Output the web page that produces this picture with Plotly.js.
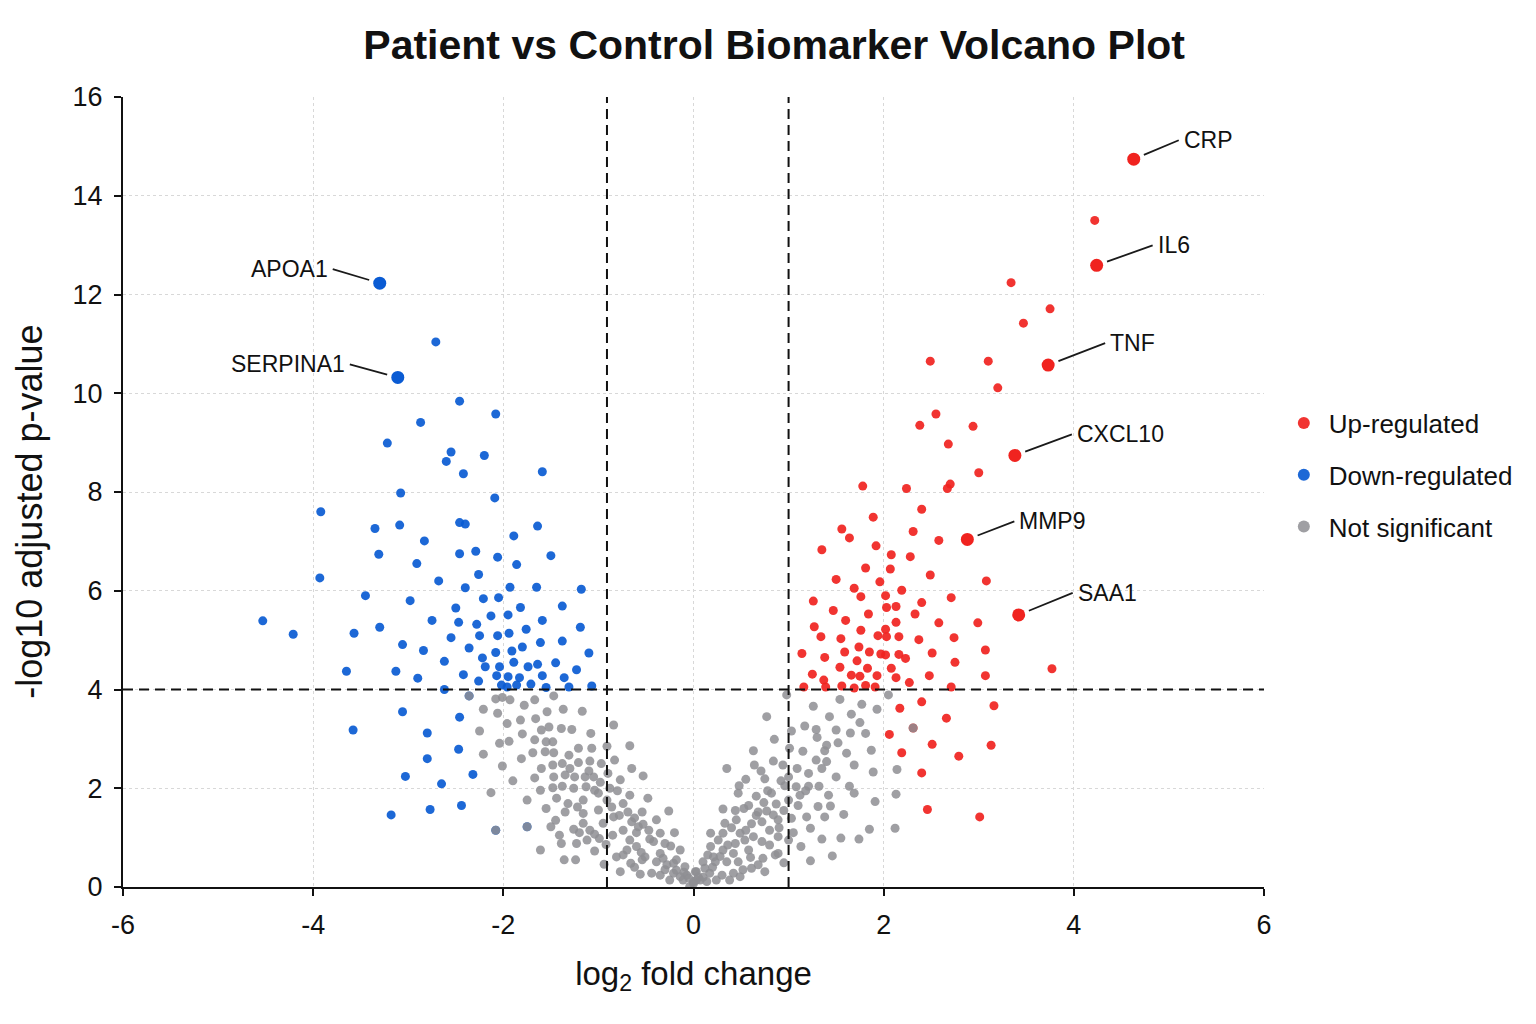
<!DOCTYPE html>
<html>
<head>
<meta charset="utf-8">
<script src="https://cdn.plot.ly/plotly-3.0.1.min.js"></script>
<style>html,body{margin:0;padding:0;background:#fff;}#chart{width:1536px;height:1024px;}</style>
</head>
<body>
<div id="chart"></div>
<script>
// ---------- DATA ----------
const upFC = [4.22,3.34,3.75,3.47,2.49,3.10,3.20,2.55,2.38,2.94,2.68,3.00,1.78,2.24,2.70,2.67,2.40,1.89,1.56,2.31,1.64,2.58,1.35,1.92,2.08,2.28,1.81,2.07,2.49,1.50,1.96,3.08,1.69,1.76,2.02,2.19,2.71,1.26,1.47,2.03,2.13,2.40,1.84,2.33,1.60,2.13,2.58,2.99,1.27,1.76,1.34,1.55,1.94,2.02,2.03,2.16,2.37,2.74,1.74,3.07,1.14,1.59,1.85,1.97,2.02,2.16,2.51,2.23,1.38,1.72,2.75,1.54,1.83,2.08,3.77,1.25,1.66,1.75,1.93,2.13,2.48,3.07,1.37,2.27,1.16,1.39,1.56,1.69,1.81,1.91,2.71,2.40,3.16,2.17,2.66,2.31,2.06,2.51,3.13,2.19,2.79,2.40,2.46,3.01];
const upP  = [13.50,12.24,11.71,11.42,10.65,10.65,10.11,9.58,9.35,9.33,8.97,8.39,8.12,8.07,8.16,8.07,7.65,7.49,7.25,7.20,7.07,7.02,6.83,6.91,6.73,6.69,6.46,6.44,6.32,6.23,6.18,6.20,6.05,5.88,5.90,6.01,5.86,5.79,5.60,5.66,5.68,5.76,5.53,5.53,5.40,5.36,5.35,5.35,5.27,5.20,5.07,5.03,5.09,5.22,5.07,5.07,5.01,5.05,4.86,4.80,4.73,4.76,4.76,4.72,4.70,4.71,4.74,4.63,4.65,4.58,4.55,4.45,4.43,4.43,4.42,4.31,4.29,4.27,4.28,4.24,4.28,4.28,4.19,4.14,4.05,4.05,4.07,4.03,4.08,4.05,4.05,3.75,3.67,3.62,3.42,3.22,3.09,2.89,2.87,2.72,2.65,2.31,1.57,1.42];

const downFC = [-2.71,-2.46,-2.08,-2.87,-3.22,-2.55,-2.60,-2.20,-2.42,-1.59,-3.08,-2.09,-3.92,-3.35,-3.09,-2.46,-2.40,-1.64,-2.83,-1.89,-3.31,-2.46,-2.29,-2.06,-1.50,-2.91,-1.86,-2.26,-3.93,-2.68,-2.40,-1.93,-1.65,-1.18,-3.45,-2.98,-2.21,-2.05,-2.50,-1.82,-1.38,-4.53,-2.75,-2.47,-2.28,-2.13,-1.95,-1.59,-4.21,-3.57,-3.30,-2.25,-2.06,-1.94,-1.76,-1.19,-2.55,-1.61,-1.38,-3.06,-2.36,-1.80,-2.84,-2.08,-1.91,-1.10,-2.22,-2.62,-1.89,-2.19,-2.04,-1.74,-1.64,-1.45,-1.23,-3.65,-3.13,-2.90,-2.42,-2.26,-2.07,-1.95,-1.83,-1.59,-1.36,-2.02,-1.86,-1.71,-1.55,-1.31,-1.07,-2.62,-1.96,-3.06,-2.46,-3.58,-2.80,-2.47,-2.80,-3.03,-2.32,-2.65,-2.77,-2.44,-3.18,-2.36,-2.08,-1.75];
const downP  = [11.04,9.84,9.58,9.41,8.99,8.81,8.62,8.74,8.37,8.41,7.98,7.88,7.60,7.26,7.33,7.38,7.35,7.31,7.01,7.11,6.74,6.75,6.80,6.68,6.71,6.55,6.53,6.33,6.26,6.20,6.06,6.07,6.07,6.03,5.90,5.80,5.84,5.86,5.65,5.66,5.69,5.39,5.40,5.36,5.32,5.49,5.51,5.40,5.12,5.14,5.26,5.09,5.09,5.14,5.22,5.26,5.05,4.95,4.98,4.91,4.84,4.86,4.79,4.75,4.78,4.74,4.64,4.57,4.55,4.46,4.46,4.46,4.51,4.54,4.40,4.37,4.37,4.23,4.30,4.17,4.28,4.26,4.24,4.28,4.24,4.09,4.09,4.11,4.04,4.05,4.07,4.00,4.05,3.55,3.44,3.18,3.12,2.79,2.60,2.24,2.28,2.09,1.57,1.65,1.46,3.87,1.15,1.22];

const nsFC = [-2.36,-2.21,-2.25,-2.21,-2.01,-2.04,-1.94,-1.90,-2.13,-2.08,-1.75,-1.75,-1.50,-2.06,-1.96,-2.01,-2.08,-1.93,-1.82,-1.78,-1.67,-1.66,-1.54,-1.47,-1.37,-1.17,-1.80,-1.67,-1.60,-1.52,-1.39,-1.28,-1.08,-1.48,-1.55,-1.81,-1.69,-1.56,-1.47,-1.31,-1.21,-1.07,-0.91,-0.83,-0.84,-1.60,-1.48,-1.38,-1.21,-1.09,-0.97,-1.67,-1.47,-1.35,-1.25,-1.14,-1.05,-1.61,-1.48,-1.38,-1.26,-1.13,-1.04,-1.55,-1.44,-1.32,-1.16,-1.35,-1.16,-1.00,-1.26,-1.09,-0.95,-0.91,
 -0.67,-0.65,-0.53,-0.77,-0.67,-0.48,-0.74,-0.69,-0.54,-0.26,-0.39,-0.65,-0.53,-0.74,-0.60,-0.35,-0.20,-0.67,-0.46,-0.60,-0.24,-0.14,-0.74,-0.51,-0.35,-0.39,-0.28,-0.56,-0.44,-0.35,-0.18,-0.09,-0.07,0.02,0.03,-0.11,-0.25,
 -1.61,-1.39,-1.36,-1.24,-1.23,-1.04,-0.94,-0.92,-0.81,-0.77,-0.70,-0.66,-0.54,-0.32,-0.21,-0.21,-0.14,-0.05,0.00,-1.04,-1.16,-0.84,
 -1.10,-0.98,-0.88,-0.80,-0.86,-0.78,-0.62,-0.58,-0.47,-0.42,-0.30,-0.55,-0.18,-0.10,-0.30,-0.62,-0.85,-0.99,-1.12,-1.20,-1.41,-1.45,-1.22,-1.00,-0.90,-1.30,
 0.98,1.26,1.54,1.77,1.93,2.05,0.77,1.43,1.66,1.75,1.17,1.29,1.50,1.65,1.81,1.03,1.30,1.52,0.85,0.63,1.01,1.15,1.38,1.61,1.87,1.29,1.40,0.84,0.64,0.35,0.94,1.09,1.21,1.35,1.69,1.89,2.14,1.50,0.55,0.75,0.92,1.00,1.08,1.21,1.32,1.64,1.69,0.47,0.66,0.82,1.00,1.12,1.42,1.91,2.13,0.31,0.53,0.74,0.87,1.31,1.44,1.38,1.58,0.77,0.72,0.89,1.03,1.23,1.85,2.12,1.35,1.55,1.74,1.13,1.46,1.23,0.95,0.75,0.18,0.18,0.31,0.33,0.45,0.49,0.61,0.63,0.80,0.89,1.00,0.80,0.58,0.42,0.31,0.10,0.23,0.35,0.47,0.61,0.73,0.89,0.03,0.17,0.30,0.42,0.07,0.00,0.14,0.24,1.40,
 0.68,0.84,0.44,0.54,0.72,0.21,0.86,0.38,0.49,-0.04,1.19,2.31,
 0.10,0.20,0.28,0.36,0.26,0.40,0.55,0.60,0.68,0.52,0.66,0.90,0.95,1.05,0.78,0.58,0.44,0.15,0.05,0.12,1.10,1.18,0.96,0.71,0.48];
const nsP  = [3.87,3.60,3.16,2.69,2.45,2.91,2.95,2.15,1.91,1.15,1.22,1.76,1.22,3.52,3.31,3.84,3.81,3.79,3.38,3.68,3.79,3.41,3.55,3.87,3.60,3.56,3.10,2.98,3.18,3.24,3.21,3.19,3.11,2.94,2.94,2.60,2.72,2.74,2.72,2.67,2.81,2.81,2.85,2.57,3.28,2.40,2.47,2.50,2.52,2.55,2.50,2.21,2.23,2.27,2.23,2.23,2.23,1.96,2.01,2.04,2.00,2.03,1.96,1.59,1.80,1.69,1.76,1.52,1.49,1.56,1.17,1.15,1.29,1.76,
 2.86,2.40,2.25,2.17,1.86,1.80,1.69,1.52,1.52,1.54,1.36,1.32,1.27,1.15,1.10,1.09,1.10,0.95,0.97,0.82,0.83,0.75,0.65,0.61,0.68,0.51,0.45,0.26,0.28,0.24,0.34,0.41,0.24,0.31,0.14,0.14,0.14,
 0.75,0.88,0.55,0.55,0.88,0.73,0.46,0.86,0.61,0.31,0.75,0.48,0.55,0.58,0.48,0.28,0.21,0.18,0.07,1.07,1.29,1.42,
 2.35,2.12,2.00,1.95,1.62,1.45,1.40,1.22,1.15,0.92,0.88,0.70,0.55,0.30,0.35,0.40,1.05,0.98,0.95,1.10,1.05,1.35,1.62,1.90,2.30,2.40,
 3.89,3.66,3.80,3.70,3.60,3.89,3.45,3.45,3.50,3.33,3.26,3.19,3.18,3.12,3.11,3.16,3.03,2.92,2.99,2.76,2.81,2.75,2.76,2.71,2.77,2.57,2.54,2.55,2.47,2.40,2.47,2.40,2.30,2.40,2.47,2.33,2.38,2.23,2.18,2.19,2.15,2.23,2.03,2.04,2.04,2.04,1.90,1.90,1.84,1.90,1.76,1.86,1.86,1.73,1.88,1.58,1.59,1.71,1.68,1.63,1.64,1.42,1.47,1.54,1.32,1.36,1.39,1.19,1.17,1.19,0.97,0.99,0.97,0.82,0.63,0.53,0.49,0.31,1.09,0.82,1.09,1.29,1.36,1.09,1.28,1.02,1.15,1.02,0.95,0.85,0.75,0.68,0.75,0.51,0.51,0.51,0.51,0.38,0.58,0.68,0.31,0.28,0.24,0.28,0.14,0.11,0.11,0.14,2.87,
 1.52,1.46,0.88,0.95,0.92,0.61,0.65,0.14,0.21,0.01,1.42,3.22,
 0.20,0.40,0.62,0.85,0.95,1.20,1.15,0.60,0.45,0.35,1.45,1.20,1.55,1.10,1.95,1.65,1.55,0.65,0.20,0.38,1.65,1.95,2.05,2.35,2.05];

const upLabelGenes = ['CRP','IL6','TNF','CXCL10','MMP9','SAA1'];
const upLabelFC    = [4.63,4.24,3.73,3.38,2.88,3.42];
const upLabelP     = [14.74,12.59,10.57,8.74,7.04,5.51];
const downLabelGenes = ['APOA1','SERPINA1'];
const downLabelFC    = [-3.30,-3.11];
const downLabelP     = [12.23,10.32];

const fcThresholds = [-0.91, 1];
const pThreshold = 4;
const xTicks = [-6,-4,-2,0,2,4,6];
const yTicks = [0,2,4,6,8,10,12,14,16];
const yTitleText = '-log10 adjusted p-value';

// ---------- STYLE ----------
const FONT = 'Liberation Sans, Arial, sans-serif';
const RED = '#f0231f', BLUE = '#0a5bd3', GRAY = '#8e8e93';
const labelOffsets = {
  CRP:[45,-19], IL6:[56,-20], TNF:[57,-22], CXCL10:[57,-21], MMP9:[47,-18], SAA1:[54,-22],
  APOA1:[-47,-14], SERPINA1:[-48,-13]
};

const traces = [
  {type:'scatter', mode:'markers', name:'Up-regulated', x:upFC, y:upP, legendgroup:'a',
   marker:{color:RED, size:9, opacity:0.92}, hoverinfo:'x+y'},
  {type:'scatter', mode:'markers', name:'Down-regulated', x:downFC, y:downP, legendgroup:'b',
   marker:{color:BLUE, size:9, opacity:0.92}, hoverinfo:'x+y'},
  {type:'scatter', mode:'markers', name:'Not significant', x:nsFC, y:nsP, legendgroup:'c',
   marker:{color:GRAY, size:9, opacity:0.85}, hoverinfo:'x+y'},
  {type:'scatter', mode:'markers', name:'Up labeled', x:upLabelFC, y:upLabelP, text:upLabelGenes,
   showlegend:false, legendgroup:'a', marker:{color:RED, size:13}},
  {type:'scatter', mode:'markers', name:'Down labeled', x:downLabelFC, y:downLabelP, text:downLabelGenes,
   showlegend:false, legendgroup:'b', marker:{color:BLUE, size:13}}
];

const annotations = [];
upLabelGenes.forEach((g,i)=>annotations.push({x:upLabelFC[i], y:upLabelP[i], text:g,
  ax:labelOffsets[g][0], ay:labelOffsets[g][1], xanchor:'left', yanchor:'middle'}));
downLabelGenes.forEach((g,i)=>annotations.push({x:downLabelFC[i], y:downLabelP[i], text:g,
  ax:labelOffsets[g][0], ay:labelOffsets[g][1], xanchor:'right', yanchor:'middle'}));
annotations.forEach(a=>Object.assign(a,{xref:'x', yref:'y', showarrow:true, arrowhead:0,
  arrowwidth:1.8, arrowcolor:'#1a1a1a', standoff:11, borderpad:4,
  font:{family:FONT, size:23, color:'#111'}}));
// y-axis title (placed slightly below axis centre as in the reference)
annotations.push({text:yTitleText, xref:'paper', yref:'paper', x:-0.0815, y:0.475,
  xanchor:'center', yanchor:'middle', textangle:-90, showarrow:false,
  font:{family:FONT, size:36, color:'#111'}});

const shapes = [];
fcThresholds.forEach(v=>shapes.push({type:'line', xref:'x', yref:'paper', x0:v, x1:v, y0:0, y1:1,
  line:{color:'#111', width:2, dash:'10px,6px'}}));
shapes.push({type:'line', xref:'paper', yref:'y', x0:0, x1:1, y0:pThreshold, y1:pThreshold,
  line:{color:'#111', width:2, dash:'10px,6px'}});

const layout = {
  width:1536, height:1024, paper_bgcolor:'#fff', plot_bgcolor:'#fff',
  margin:{l:123, r:272, t:97, b:137},
  font:{family:FONT, color:'#111'},
  title:{text:'<b>Patient vs Control Biomarker Volcano Plot</b>', font:{family:FONT, size:41, color:'#111'},
    x:0.504, xref:'container', y:0.956, yref:'container', yanchor:'middle'},
  xaxis:{range:[-6,6], tickvals:xTicks, ticktext:xTicks.map(String), showline:true, linecolor:'#111', linewidth:2,
    ticks:'outside', ticklen:7, tickwidth:2, tickcolor:'#111', zeroline:false, ticklabelstandoff:6,
    showgrid:true, gridcolor:'#d8d8d8', griddash:'dot', gridwidth:1,
    tickfont:{family:FONT, size:27, color:'#111'},
    title:{text:'log<sub>2</sub> fold change', font:{family:FONT, size:33, color:'#111'}, standoff:22}},
  yaxis:{range:[0,16], tickvals:yTicks, ticktext:yTicks.map(String), showline:true, linecolor:'#111', linewidth:2,
    ticks:'outside', ticklen:7, tickwidth:2, tickcolor:'#111', zeroline:false, ticklabelstandoff:6,
    showgrid:true, gridcolor:'#d8d8d8', griddash:'dot', gridwidth:1,
    tickfont:{family:FONT, size:27, color:'#111'}},
  showlegend:true,
  legend:{x:1.013, xanchor:'left', y:0.617, yanchor:'top', traceorder:'grouped', tracegroupgap:15,
    itemwidth:40, itemsizing:'constant', font:{family:FONT, size:26, color:'#111'}, bgcolor:'rgba(0,0,0,0)'},
  shapes:shapes, annotations:annotations
};

Plotly.newPlot('chart', traces, layout, {staticPlot:true, displayModeBar:false});
</script>
</body>
</html>
